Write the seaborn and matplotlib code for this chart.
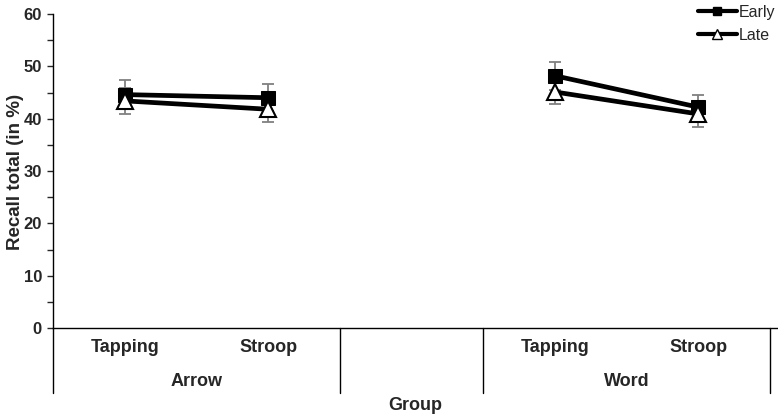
import matplotlib
matplotlib.use("Agg")
import matplotlib.pyplot as plt
import matplotlib.transforms as mtransforms
from matplotlib.ticker import MultipleLocator
from matplotlib.lines import Line2D
import seaborn as sns
import pandas as pd

# ---- data ----
groups = ["Arrow", "Word"]
tasks = ["Tapping", "Stroop"]
early = [44.6, 44.0, 48.2, 42.2]
late = [43.4, 41.8, 45.1, 40.9]
early_err = [2.7, 2.6, 2.7, 2.4]
late_err = [2.5, 2.4, 2.3, 2.4]
series_names = ["Early", "Late"]

sns.set_style("white")
plt.rcParams["font.family"] = ["Liberation Sans", "DejaVu Sans"]

W, H = 778, 416
fig = plt.figure(figsize=(W / 100, H / 100), dpi=100)
ax_left, ax_right, ax_bottom, ax_top = 53, W, 328, 14
ax = fig.add_axes([ax_left / W, 1 - ax_bottom / H, (ax_right - ax_left) / W, (ax_bottom - ax_top) / H])
axes_h_px = ax_bottom - ax_top
axes_w_px = ax_right - ax_left

rows = []
for gi, g in enumerate(groups):
    for ti, t in enumerate(tasks):
        k = gi * 2 + ti
        pos = gi * 3 + ti
        rows.append(dict(group=g, task=t, pos=pos, time="Early", value=early[k], err=early_err[k]))
        rows.append(dict(group=g, task=t, pos=pos, time="Late", value=late[k], err=late_err[k]))
df = pd.DataFrame(rows)

styles = {
    "Early": dict(marker="s", markersize=10, markerfacecolor="black", markeredgecolor="black"),
    "Late": dict(marker="^", markersize=12, markerfacecolor="white", markeredgecolor="black", markeredgewidth=1.5),
}

# error bars
for name in series_names:
    sub = df[df.time == name]
    ax.errorbar(sub.pos, sub.value, yerr=sub.err, fmt="none", ecolor="#808080",
                elinewidth=1.3, capsize=4.5, capthick=1.3, zorder=2)

# lines + markers
for z, name in enumerate(series_names):
    for g in groups:
        sub = df[(df.time == name) & (df.group == g)]
        sns.lineplot(data=sub, x="pos", y="value", ax=ax, color="black", lw=3.4,
                     estimator=None, sort=False, legend=False, zorder=3 + z, **styles[name])

ax.set_ylim(0, 60)
ax.set_xlim(-0.5, 4.5 + 8 / 143.4)
ax.yaxis.set_major_locator(MultipleLocator(10))
ax.yaxis.set_minor_locator(MultipleLocator(5))
ax.tick_params(axis="y", which="both", direction="out", length=4, width=1, left=True,
               labelsize=12, pad=4)
for lab in ax.get_yticklabels():
    lab.set_fontweight("bold")

for s in ["top", "right"]:
    ax.spines[s].set_visible(False)
for s in ["left", "bottom"]:
    ax.spines[s].set_linewidth(1)
    ax.spines[s].set_color("black")

# category axis
xt = sorted(df.pos.unique())
xl = [df[df.pos == p].task.iloc[0] for p in xt]
ax.set_xticks(xt)
ax.set_xticklabels(xl, fontsize=13, fontweight="bold")
ax.tick_params(axis="x", length=0, pad=0)
for lab in ax.get_xticklabels():
    lab.set_verticalalignment("center")
    lab.set_y(-(347 - 328) / axes_h_px)

trans = mtransforms.blended_transform_factory(ax.transData, ax.transAxes)
for gi, g in enumerate(groups):
    cx = gi * 3 + 0.5
    ax.text(cx, -(382 - 328) / axes_h_px, g, transform=trans, ha="center", va="center",
            fontsize=13, fontweight="bold")
for xv in [-0.5, 1.5, 2.5, 4.5]:
    ax.add_line(Line2D([xv, xv], [0, -(393 - 328) / axes_h_px], transform=trans,
                       color="black", lw=1, clip_on=False))

ax.set_xlabel("Group", fontsize=13, fontweight="bold", va="center")
ax.xaxis.set_label_coords(0.5, -(406 - 328) / axes_h_px)
ax.set_ylabel("Recall total (in %)", fontsize=13.5, fontweight="bold", va="center")
ax.yaxis.set_label_coords(-(53 - 16) / axes_w_px, 0.5 + (170 - 171) / axes_h_px)

# legend
handles = [Line2D([0], [0], color="black", lw=3, marker="s", markersize=6,
                  markerfacecolor="black", markeredgecolor="black"),
           Line2D([0], [0], color="black", lw=3, marker="^", markersize=7,
                  markerfacecolor="white", markeredgecolor="black")]
fig.legend(handles, series_names, loc="upper right", bbox_to_anchor=(1.009, 1.012),
           frameon=False, fontsize=11.5, handlelength=2.4, handletextpad=0.15,
           labelspacing=0.5, borderaxespad=0.2)

fig.savefig("out.png", dpi=100)
